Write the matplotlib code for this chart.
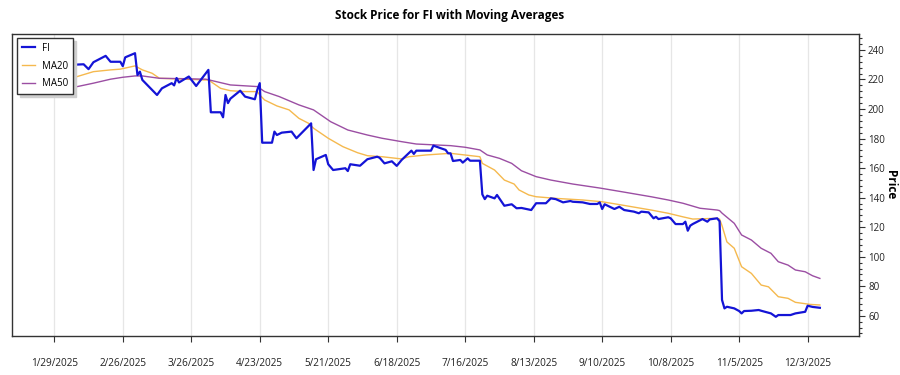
import matplotlib
matplotlib.use("Agg")
import matplotlib.pyplot as plt
import pandas as pd
from matplotlib.ticker import MultipleLocator

plt.rcParams['font.family'] = ['Open Sans', 'DejaVu Sans']

# ---- data ----
fi_dates = ["2025-01-28","2025-01-29","2025-01-30","2025-01-31","2025-02-03","2025-02-04","2025-02-05",
            "2025-02-06","2025-02-10","2025-02-12","2025-02-14","2025-02-19","2025-02-21","2025-02-25",
            "2025-02-26","2025-02-27","2025-03-03","2025-03-04","2025-03-05","2025-03-06","2025-03-12",
            "2025-03-14","2025-03-18","2025-03-19","2025-03-20","2025-03-21","2025-03-25","2025-03-28",
            "2025-04-02","2025-04-03","2025-04-07","2025-04-08","2025-04-09","2025-04-10","2025-04-11",
            "2025-04-15","2025-04-17","2025-04-21","2025-04-22","2025-04-23","2025-04-24","2025-04-28",
            "2025-04-29","2025-04-30","2025-05-02","2025-05-06","2025-05-08","2025-05-12","2025-05-14",
            "2025-05-15","2025-05-16","2025-05-20","2025-05-21","2025-05-23","2025-05-28","2025-05-29",
            "2025-05-30","2025-06-03","2025-06-06","2025-06-10","2025-06-11","2025-06-13","2025-06-16",
            "2025-06-18","2025-06-20","2025-06-24","2025-06-25","2025-06-26","2025-07-02","2025-07-03",
            "2025-07-08","2025-07-09","2025-07-10","2025-07-11","2025-07-14","2025-07-15","2025-07-17",
            "2025-07-18","2025-07-22","2025-07-23","2025-07-24","2025-07-25","2025-07-28","2025-07-29",
            "2025-08-01","2025-08-04","2025-08-06","2025-08-08","2025-08-12","2025-08-14","2025-08-18",
            "2025-08-20","2025-08-22","2025-08-25","2025-08-28","2025-08-29","2025-09-02","2025-09-05",
            "2025-09-08","2025-09-09","2025-09-10","2025-09-11","2025-09-15","2025-09-17","2025-09-19",
            "2025-09-23","2025-09-25","2025-09-26","2025-09-29","2025-10-01","2025-10-02","2025-10-03",
            "2025-10-07","2025-10-08","2025-10-10","2025-10-13","2025-10-14","2025-10-15","2025-10-16",
            "2025-10-17","2025-10-21","2025-10-23","2025-10-24","2025-10-27","2025-10-28","2025-10-29",
            "2025-10-30","2025-10-31","2025-11-03","2025-11-05","2025-11-06","2025-11-07","2025-11-10",
            "2025-11-13","2025-11-14","2025-11-18","2025-11-20","2025-11-21","2025-11-26","2025-11-28",
            "2025-12-02","2025-12-03","2025-12-05","2025-12-08"]
fi_values = [211, 220, 228, 230, 229, 231, 230,
             230, 230.3, 227, 231.7, 236, 232, 232,
             229, 235, 237.8, 223, 225.3, 219.7, 209.5,
             214, 217.5, 216, 221, 218, 222, 215.6,
             226.5, 197.8, 197.8, 194.4, 209.5, 204, 207,
             212.4, 208.4, 206.6, 213, 217.5, 177.2, 177.2,
             184.7, 182.4, 184, 184.7, 180.2, 187, 190.3,
             158.7, 166, 168.9, 162.6, 158.7, 159.9, 158,
             162.6, 161.6, 166, 167.7, 167, 163.2, 164.6,
             161.5, 165.5, 171.8, 169.6, 171.8, 171.8, 175.2,
             172.3, 170, 170, 164.8, 165.5, 163.7, 166.6,
             165, 165, 142.2, 139, 141.3, 139.5, 141.8,
             134.5, 135.5, 132.8, 133, 131.6, 136.2, 136.2,
             139.5, 139, 136.8, 137.7, 137.2, 136.8, 135.7,
             135.7, 136.8, 132.3, 135.5, 132.3, 133.8, 131.6,
             130.5, 129.4, 130.5, 130, 126, 127, 125.5,
             126.7, 126, 122.1, 122.1, 123.7, 117.6, 121,
             122.1, 125.5, 123.7, 125.3, 126, 124, 70.7,
             65, 66.1, 65, 63.2, 61.6, 63.2, 63.4,
             63.9, 63.4, 61.6, 59.3, 60.5, 60.5, 61.6,
             62.7, 66.8, 66, 65.4]

ma20_dates = ["2025-01-28","2025-02-06","2025-02-14","2025-02-21","2025-02-25","2025-03-03","2025-03-06",
              "2025-03-10","2025-03-13","2025-03-17","2025-03-31","2025-04-02","2025-04-07","2025-04-11",
              "2025-04-17","2025-04-22","2025-04-23","2025-04-25","2025-04-30","2025-05-05","2025-05-09",
              "2025-05-13","2025-05-15","2025-05-21","2025-05-27","2025-06-02","2025-06-06","2025-06-12",
              "2025-06-20","2025-06-23","2025-06-30","2025-07-10","2025-07-22","2025-07-23","2025-07-28",
              "2025-08-01","2025-08-05","2025-08-07","2025-08-11","2025-08-14","2025-08-22","2025-09-02",
              "2025-09-10","2025-09-18","2025-09-30","2025-10-07","2025-10-13","2025-10-17","2025-10-27",
              "2025-10-28","2025-10-29","2025-10-31","2025-11-03","2025-11-06","2025-11-10","2025-11-14",
              "2025-11-17","2025-11-21","2025-11-25","2025-11-28","2025-12-04","2025-12-08"]
ma20_values = [216, 221.3, 225.3, 226.5, 227, 229.2, 226.5,
               224.2, 220.8, 220.6, 219.7, 219.7, 214, 212.4,
               211.8, 211.8, 209.5, 206.1, 202.1, 199.4, 193.7,
               190.3, 187, 180.2, 174.5, 170.4, 168.4, 167.7,
               166.2, 167.7, 168.9, 170, 167.7, 163.2, 158.7,
               151.9, 149.2, 145.2, 141.8, 140.6, 139.5, 138.4,
               137.2, 135, 131.6, 129.4, 127, 125.5, 126,
               125.5, 121, 110, 105.7, 93.2, 88.7, 80.8,
               79.6, 72.9, 71.8, 69.1, 67.7, 67.3]

ma50_dates = ["2025-01-28","2025-02-06","2025-02-14","2025-02-21","2025-02-26","2025-03-03","2025-03-06",
              "2025-03-13","2025-03-21","2025-04-01","2025-04-11","2025-04-22","2025-04-25","2025-05-01",
              "2025-05-09","2025-05-15","2025-05-22","2025-05-29","2025-06-06","2025-06-12","2025-06-20",
              "2025-06-26","2025-07-10","2025-07-16","2025-07-22","2025-07-25","2025-07-30","2025-08-04",
              "2025-08-08","2025-08-14","2025-08-20","2025-08-29","2025-09-09","2025-09-18","2025-09-30",
              "2025-10-07","2025-10-13","2025-10-20","2025-10-27","2025-10-28","2025-10-29","2025-11-03",
              "2025-11-06","2025-11-10","2025-11-14","2025-11-18","2025-11-21","2025-11-25","2025-11-28",
              "2025-12-02","2025-12-05","2025-12-08"]
ma50_values = [212, 214.7, 217.5, 220.2, 221.5, 222.4, 222.4,
               220.8, 220.6, 220.2, 216.3, 215.2, 211.8, 208.4,
               202.8, 199.4, 191.4, 185.8, 182.4, 180.2, 177.9,
               176.3, 175.2, 174.1, 172.3, 168.9, 166.6, 163.2,
               158.2, 154.2, 151.9, 149.2, 146.5, 144, 140.6,
               138.4, 136.2, 132.8, 131.6, 131.2, 129.5, 122.6,
               114.7, 111.3, 105.7, 102.3, 96.6, 94.3, 91,
               89.8, 87.1, 85.3]

tick_labels = ["1/29/2025","2/26/2025","3/26/2025","4/23/2025","5/21/2025","6/18/2025",
               "7/16/2025","8/13/2025","9/10/2025","10/8/2025","11/5/2025","12/3/2025"]
title = "Stock Price for FI with Moving Averages"

# ---- plot ----
fig = plt.figure(figsize=(9, 3.75), dpi=100)
ax = fig.add_axes([12/900, 1-336/375, (859-12)/900, (336-34)/375])

ax.plot(pd.to_datetime(ma20_dates), ma20_values, color='#f5b94e', lw=1.0, label='MA20', zorder=3)
ax.plot(pd.to_datetime(ma50_dates), ma50_values, color='#9b4ea3', lw=1.0, label='MA50', zorder=3)
ax.plot(pd.to_datetime(fi_dates), fi_values, color='#1414d6', lw=1.6, label='FI', zorder=4)

ticks = pd.to_datetime(tick_labels, format="%m/%d/%Y")
ax.set_xticks(ticks)
ax.set_xticklabels(tick_labels)
ax.set_xlim(pd.Timestamp("2025-01-11 17:00"), pd.Timestamp("2025-12-24"))
ax.set_ylim(46.3, 250.8)

ax.grid(axis='x', color='#e6e6e6', lw=0.9)
ax.set_axisbelow(True)

ax.yaxis.tick_right()
ax.yaxis.set_label_position('right')
ax.yaxis.set_major_locator(MultipleLocator(20))
ax.yaxis.set_minor_locator(MultipleLocator(4))
ax.tick_params(axis='y', which='major', direction='out', length=4, width=0.8, colors='#333333',
               labelsize=7.0, pad=2.5)
ax.tick_params(axis='y', which='minor', direction='out', length=2, width=0.8, color='#333333')
ax.tick_params(axis='x', which='major', direction='out', length=4, width=0.8, colors='#333333',
               labelsize=7.2, pad=12)
for lab in ax.get_xticklabels() + ax.get_yticklabels():
    lab.set_color('#222222')

for s in ax.spines.values():
    s.set_color('#333333')
    s.set_linewidth(1.0)

ax.set_ylabel("Price", rotation=270, fontsize=8.5, fontweight='bold', ha='center', va='center')
ax.yaxis.set_label_coords((891 - 12) / 847, 0.5)
fig.text(0.5, 1-15/375, title, ha='center', va='center', fontsize=8.5, fontweight='bold')

handles, labels = ax.get_legend_handles_labels()
order = [2, 0, 1]
leg = ax.legend([handles[i] for i in order], [labels[i] for i in order],
                loc='upper left', bbox_to_anchor=(5/847, 1-4/302), borderaxespad=0,
                prop={'size': 7}, frameon=True, fancybox=False,
                shadow={'color': '#cfcfcf', 'alpha': 1.0},
                handlelength=1.4, handletextpad=0.7, borderpad=0.5, labelspacing=0.7)
leg.get_frame().set_edgecolor('#333333')
leg.get_frame().set_linewidth(1.0)

fig.savefig("out.png", dpi=100)
